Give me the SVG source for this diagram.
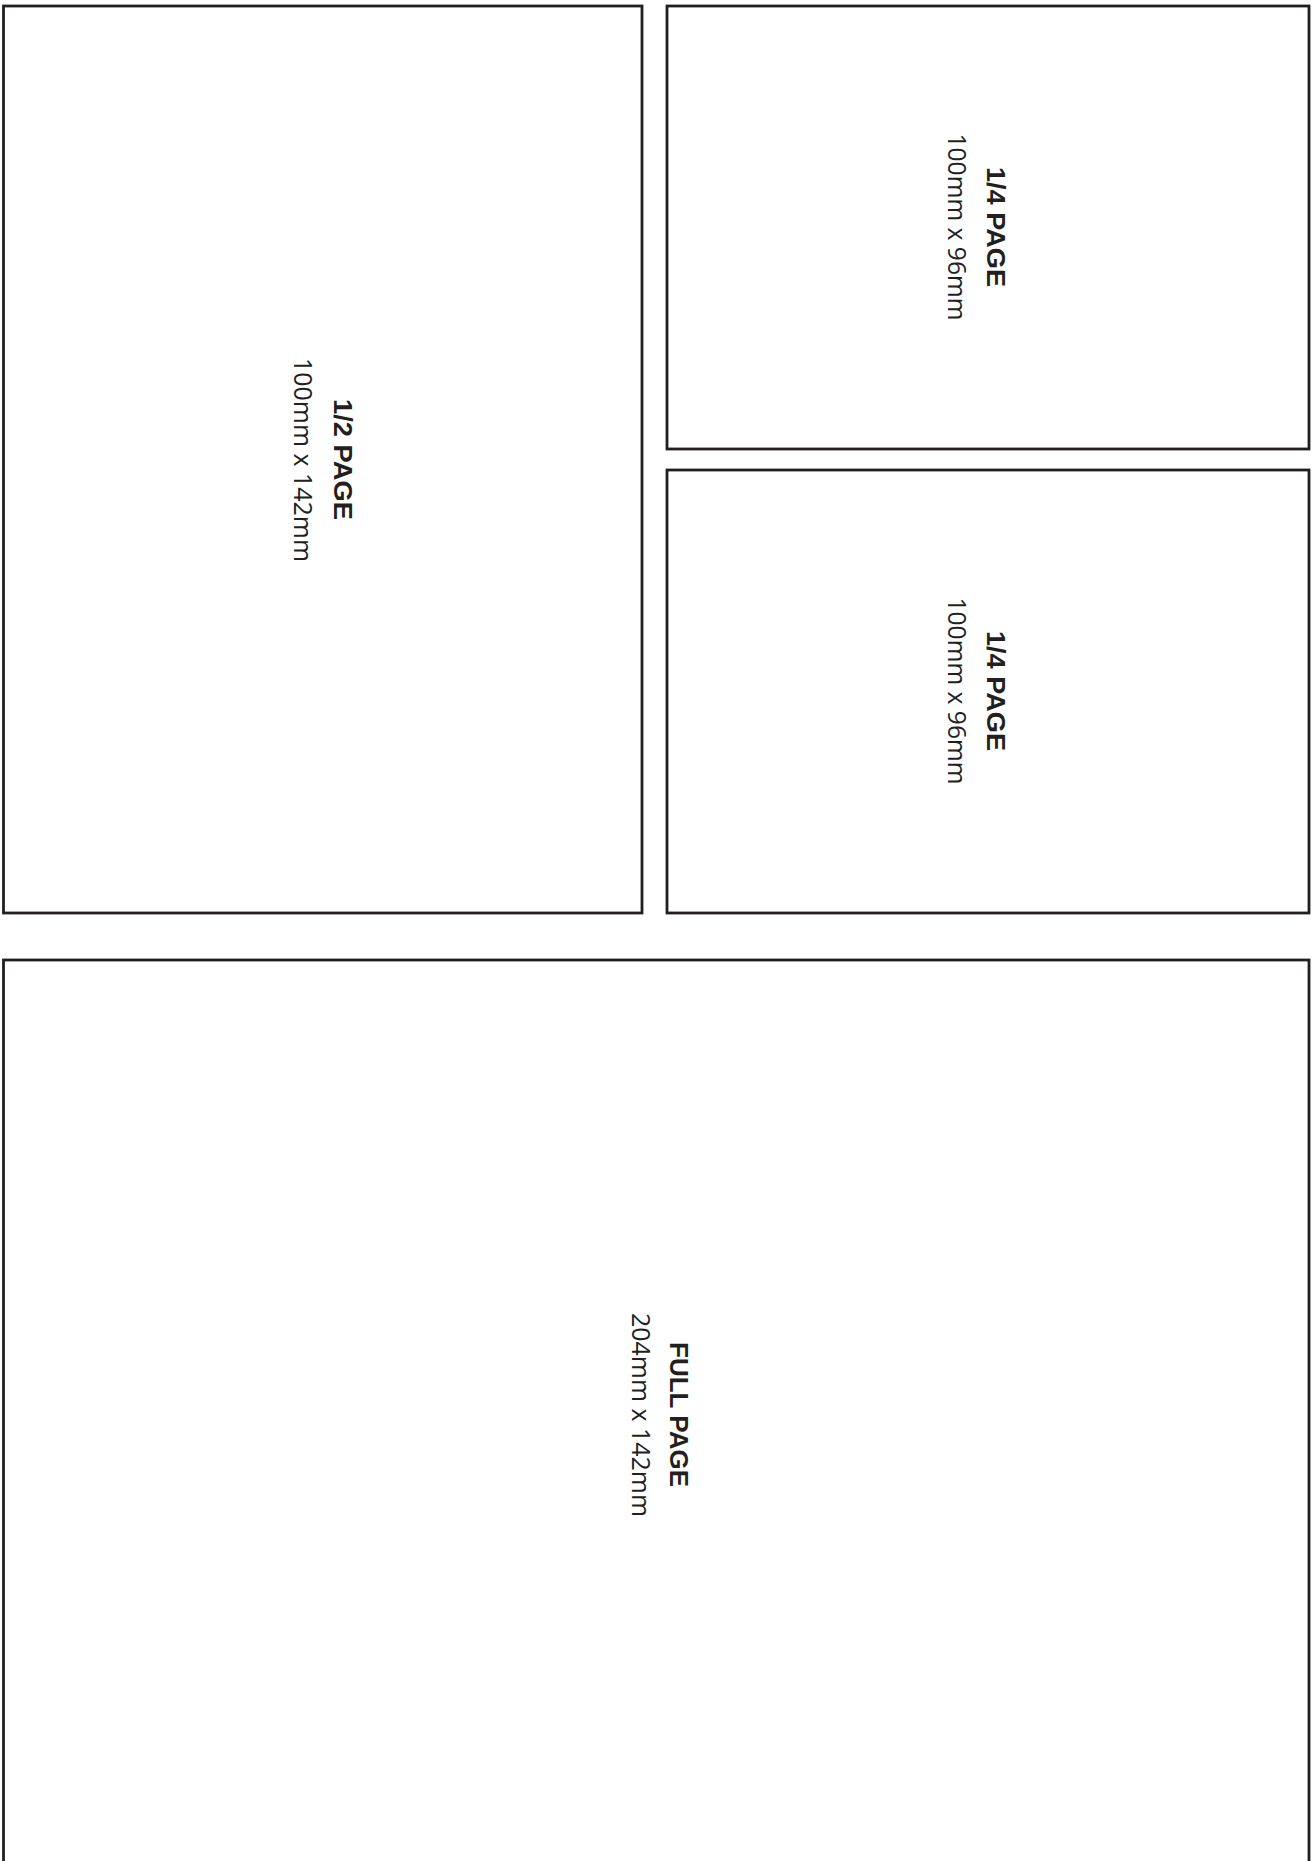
<svg xmlns="http://www.w3.org/2000/svg" width="1315" height="1861" viewBox="0 0 1315 1861">
<style>
.box{fill:#fff;stroke:#231f20;stroke-width:2.8}
.t{font-family:"Open Sans","Liberation Sans",sans-serif;font-size:26px;fill:#231f20;text-anchor:middle}
.b{font-family:"Liberation Sans",Arial,sans-serif;font-weight:bold;font-size:26px}
</style>
<rect x="0" y="0" width="1315" height="1861" fill="#fff"/>
<g id="half-page">
<rect class="box" x="3.5" y="6" width="638.5" height="907"/>
<text class="t b" transform="translate(334,459.5) rotate(90)" textLength="121" lengthAdjust="spacingAndGlyphs">1/2 PAGE</text>
<text class="t" transform="translate(294,460) rotate(90)" textLength="204" lengthAdjust="spacingAndGlyphs">100mm x 142mm</text>
</g>
<g id="quarter-page-top">
<rect class="box" x="667" y="6" width="642" height="443"/>
<text class="t b" transform="translate(987,227) rotate(90)" textLength="120" lengthAdjust="spacingAndGlyphs">1/4 PAGE</text>
<text class="t" transform="translate(948,227) rotate(90)" textLength="187" lengthAdjust="spacingAndGlyphs">100mm x 96mm</text>
</g>
<g id="quarter-page-bottom">
<rect class="box" x="667" y="470" width="642" height="443"/>
<text class="t b" transform="translate(987,691) rotate(90)" textLength="120" lengthAdjust="spacingAndGlyphs">1/4 PAGE</text>
<text class="t" transform="translate(948,691) rotate(90)" textLength="187" lengthAdjust="spacingAndGlyphs">100mm x 96mm</text>
</g>
<g id="full-page">
<rect class="box" x="3.5" y="960" width="1305.5" height="910"/>
<text class="t b" transform="translate(670,1414.5) rotate(90)" textLength="145" lengthAdjust="spacingAndGlyphs">FULL PAGE</text>
<text class="t" transform="translate(632,1415) rotate(90)" textLength="204" lengthAdjust="spacingAndGlyphs">204mm x 142mm</text>
</g>
<g id="connectors"></g>
</svg>
